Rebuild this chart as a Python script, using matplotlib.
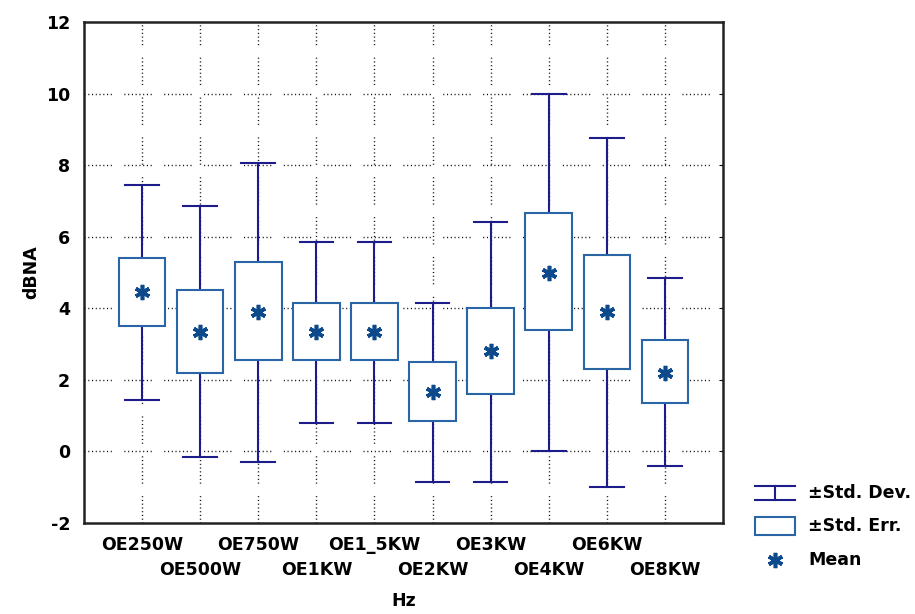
import matplotlib
matplotlib.use("Agg")
import matplotlib.pyplot as plt
from matplotlib.lines import Line2D
from matplotlib.patches import Rectangle

categories = ['OE250W', 'OE500W', 'OE750W', 'OE1KW', 'OE1_5KW',
              'OE2KW', 'OE3KW', 'OE4KW', 'OE6KW', 'OE8KW']
means = [4.45, 3.35, 3.9, 3.35, 3.35, 1.65, 2.8, 5.0, 3.9, 2.2]
se_low = [3.5, 2.2, 2.55, 2.55, 2.55, 0.85, 1.6, 3.4, 2.3, 1.35]
se_high = [5.4, 4.5, 5.3, 4.15, 4.15, 2.5, 4.0, 6.65, 5.5, 3.1]
sd_low = [1.45, -0.15, -0.3, 0.8, 0.8, -0.85, -0.85, 0.0, -1.0, -0.4]
sd_high = [7.45, 6.85, 8.05, 5.85, 5.85, 4.15, 6.4, 10.0, 8.75, 4.85]
yticks = [-2, 0, 2, 4, 6, 8, 10, 12]

whisker_col = '#1c1c8a'
box_col = '#2a65a5'
mean_col = '#0d4a8c'

plt.rcParams['font.family'] = ['DejaVu Sans']
plt.rcParams['font.weight'] = 'bold'
fs = 12.5

fig = plt.figure(figsize=(9.15, 6.14), dpi=100)
ax = fig.add_axes([84 / 915, 1 - 523 / 614, 639 / 915, 501 / 614])

grid_dash = (0, [0.8, 1.9] * 7 + [0.8, 9])
for y in yticks[1:-1]:
    ax.axhline(y, color='#111111', lw=1.0, linestyle=grid_dash, zorder=0)

xs = list(range(1, len(categories) + 1))
for x in xs:
    ax.axvline(x, color='#111111', lw=1.0, linestyle=grid_dash, zorder=0)

box_w = 0.8
cap_w = 0.29
for i, x in enumerate(xs):
    # whiskers (std dev)
    ax.plot([x, x], [sd_low[i], se_low[i]], color=whisker_col, lw=1.5, zorder=2)
    ax.plot([x, x], [se_high[i], sd_high[i]], color=whisker_col, lw=1.5, zorder=2)
    ax.plot([x - cap_w, x + cap_w], [sd_low[i], sd_low[i]], color=whisker_col, lw=1.5, zorder=2)
    ax.plot([x - cap_w, x + cap_w], [sd_high[i], sd_high[i]], color=whisker_col, lw=1.5, zorder=2)
    # box (std err)
    ax.add_patch(Rectangle((x - box_w / 2, se_low[i]), box_w, se_high[i] - se_low[i],
                           facecolor='white', edgecolor=box_col, lw=1.5, zorder=3))
ax.plot(xs, means, linestyle='none', marker=(6, 2, 0), markersize=11,
        markeredgewidth=2.6, color=mean_col, zorder=4)

ax.set_xlim(0, 11)
ax.set_ylim(-2, 12)
ax.set_yticks(yticks)
ax.set_yticklabels([str(v) for v in yticks], fontsize=fs, fontweight='bold')
ax.tick_params(axis='y', left=False, right=True, direction='in', length=3, pad=10)

# staggered category labels
ax.set_xticks(xs)
ax.set_xticklabels([])
ax.tick_params(axis='x', length=0)
xform = ax.get_xaxis_transform()
for i, c in enumerate(categories):
    yoff = -22 / 501 if i % 2 == 0 else -47 / 501
    ax.text(xs[i], yoff, c, transform=xform, ha='center', va='center',
            fontsize=fs, fontweight='bold')

for s in ax.spines.values():
    s.set_linewidth(1.8)
    s.set_color('#222222')

ax.set_ylabel('dBNA', fontsize=fs, fontweight='bold')
ax.yaxis.set_label_coords(-44 / 639, 0.5)
fig.text(ax.get_position().x0 + ax.get_position().width * 0.5, 1 - 601 / 614, 'Hz',
         ha='center', va='center', fontsize=fs, fontweight='bold')

# legend drawn in figure coords
lx0, lx1 = 755 / 915, 795 / 915
ys_leg = [1 - 493 / 614, 1 - 526 / 614, 1 - 560 / 614]
txts = ['±Std. Dev.', '±Std. Err.', 'Mean']
# std dev icon
fig.add_artist(Line2D([lx0, lx1], [ys_leg[0] + 7 / 614] * 2, color=whisker_col, lw=1.5))
fig.add_artist(Line2D([lx0, lx1], [ys_leg[0] - 7 / 614] * 2, color=whisker_col, lw=1.5))
fig.add_artist(Line2D([(lx0 + lx1) / 2] * 2, [ys_leg[0] - 7 / 614, ys_leg[0] + 7 / 614],
                      color=whisker_col, lw=1.5))
fig.add_artist(Rectangle((lx0, ys_leg[1] - 9 / 614), lx1 - lx0, 18 / 614,
                         facecolor='white', edgecolor=box_col, lw=1.5,
                         transform=fig.transFigure))
fig.add_artist(Line2D([(lx0 + lx1) / 2], [ys_leg[2]], linestyle='none', marker=(6, 2, 0),
                      markersize=11, markeredgewidth=2.6, color=mean_col))
for t, y in zip(txts, ys_leg):
    fig.text(808 / 915, y, t, fontsize=fs, fontweight='bold', va='center', ha='left')

fig.savefig('out.png', dpi=100)
